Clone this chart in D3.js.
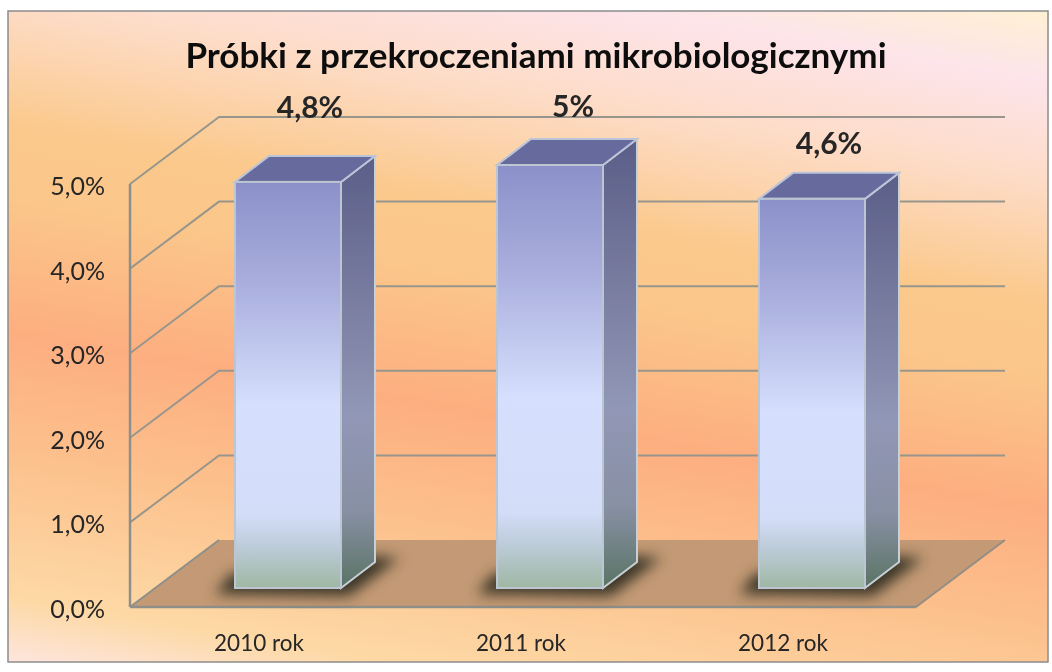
<!DOCTYPE html>
<html>
<head>
<meta charset="utf-8">
<script src="https://cdn.jsdelivr.net/npm/d3@7/dist/d3.min.js"></script>
<style>
  html, body { margin: 0; padding: 0; background: #fff; }
  svg { display: block; }
  text { font-family: Lato, "Open Sans", sans-serif; fill: #262626; }
</style>
</head>
<body>
<div id="chart"></div>
<script>
// Chart data
var title = "Próbki z przekroczeniami mikrobiologicznymi";
var categories = ["2010 rok", "2011 rok", "2012 rok"];
var values = [4.8, 5.0, 4.6];
var valueLabels = ["4,8%", "5%", "4,6%"];
var yTicks = [0, 1, 2, 3, 4, 5];

var width = 1052, height = 672;
var plot = {left: 130, right: 916, top: 184, bottom: 607};
var wall = {dx: 89, dy: -67};     // back wall offset
var barDepth = {dx: 34, dy: -26}; // side of each bar
var barFront = {dx: 27, dy: -19}; // bar front face sits this far behind the axis
var barWidth = 106;
// the value labels were hand placed in the original, they do not sit evenly over the bars
var labelNudge = [[22, -64], [23, -48], [17, -45]];

var formatTick = function(d) { return d.toFixed(1).replace(".", ",") + "%"; };

var svg = d3.select("#chart").append("svg")
    .attr("width", width)
    .attr("height", height);

var defs = svg.append("defs");

function gradient(id, stops, coords, units) {
  var g = defs.append("linearGradient").attr("id", id)
      .attr("gradientUnits", units || "objectBoundingBox")
      .attr("x1", coords[0]).attr("y1", coords[1]).attr("x2", coords[2]).attr("y2", coords[3]);
  stops.forEach(function(s) {
    g.append("stop").attr("offset", s[0]).attr("stop-color", s[1]);
  });
}

// background bands run downhill to the right
gradient("bg", [
  [0, "#fff0d4"], [0.085, "#fde4ea"], [0.2, "#fddcc8"], [0.35, "#fbc98c"],
  [0.44, "#fbc68a"], [0.6, "#fdae80"], [0.74, "#fcc08c"], [0.92, "#fdd9a6"], [1, "#fde6e0"]
], [10, -165, -127.6, 641.6], "userSpaceOnUse");

gradient("barFace", [
  [0, "#8b90c9"], [0.25, "#a9aedd"], [0.55, "#d6dffd"], [0.82, "#d3ddf8"],
  [0.9, "#bccbd8"], [1, "#9fb7a3"]
], [0, 0, 0, 1]);
gradient("barSide", [
  [0, "#5a5e88"], [0.3, "#767a9e"], [0.6, "#9197b6"], [0.82, "#8890a4"], [1, "#5a7364"]
], [0, 0, 0, 1]);

var shadowBlur = defs.append("filter").attr("id", "shadow")
    .attr("x", "-30%").attr("y", "-100%").attr("width", "160%").attr("height", "300%");
shadowBlur.append("feGaussianBlur").attr("stdDeviation", 7);

var soften = defs.append("filter").attr("id", "soften")
    .attr("x", "-2%").attr("y", "-2%").attr("width", "104%").attr("height", "104%");
soften.append("feGaussianBlur").attr("stdDeviation", 0.55);

svg.append("rect")
    .attr("x", 8).attr("y", 11)
    .attr("width", 1040).attr("height", 651)
    .attr("fill", "url(#bg)")
    .attr("stroke", "#8c8c8c")
    .attr("stroke-width", 1.5);

var chart = svg.append("g").attr("filter", "url(#soften)");

var x = d3.scaleBand().domain(categories).range([plot.left, plot.right]);
var y = d3.scaleLinear().domain([0, 5]).range([plot.bottom, plot.top]);

function pts(list) {
  return list.map(function(p) { return p.join(","); }).join(" ");
}

// floor
chart.append("polygon")
    .attr("points", pts([
      [x.range()[0], y(0)], [x.range()[1], y(0)],
      [x.range()[1] + wall.dx, y(0) + wall.dy], [x.range()[0] + wall.dx, y(0) + wall.dy]
    ]))
    .attr("fill", "#c39a75");
chart.append("line")
    .attr("x1", x.range()[1]).attr("y1", y(0))
    .attr("x2", x.range()[1] + wall.dx).attr("y2", y(0) + wall.dy)
    .attr("stroke", "#948d84").attr("stroke-width", 2);

// gridlines on the side and back walls
yTicks.forEach(function(t) {
  if (t === 0) return;
  chart.append("polyline")
      .attr("points", pts([
        [plot.left, y(t)],
        [plot.left + wall.dx, y(t) + wall.dy],
        [x.range()[1] + wall.dx, y(t) + wall.dy]
      ]))
      .attr("fill", "none")
      .attr("stroke", "#98968c")
      .attr("stroke-width", 2);
});

// front axes
chart.append("line")
    .attr("x1", plot.left).attr("y1", y(5))
    .attr("x2", plot.left).attr("y2", y(0))
    .attr("stroke", "#8f8f8a").attr("stroke-width", 2.5);
chart.append("line")
    .attr("x1", plot.left).attr("y1", y(0))
    .attr("x2", plot.left + wall.dx).attr("y2", y(0) + wall.dy)
    .attr("stroke", "#8f8f8a").attr("stroke-width", 2);
chart.append("line")
    .attr("x1", x.range()[0]).attr("y1", y(0))
    .attr("x2", x.range()[1]).attr("y2", y(0))
    .attr("stroke", "#8f8f8a").attr("stroke-width", 2.5);

var bars = chart.selectAll(".bar")
    .data(categories)
    .enter().append("g")
    .attr("class", "bar")
    .attr("transform", function(d) {
      var left = x(d) + x.bandwidth() / 2 + barFront.dx - barWidth / 2;
      return "translate(" + left + "," + (y(0) + barFront.dy) + ")";
    });

function barHeight(i) { return y(0) - y(values[i]); }

// contact shadow
bars.append("polygon")
    .attr("points", pts([
      [-20, 6], [barWidth + 8, 8], [barWidth + barDepth.dx + 24, -30],
      [barWidth, -34], [-4, -14]
    ]))
    .attr("fill", "#3a3628")
    .attr("filter", "url(#shadow)");

bars.append("polygon")
    .attr("points", function(d, i) {
      var h = barHeight(i);
      return pts([
        [barWidth, 0], [barWidth + barDepth.dx, barDepth.dy],
        [barWidth + barDepth.dx, barDepth.dy - h], [barWidth, -h]
      ]);
    })
    .attr("fill", "url(#barSide)")
    .attr("stroke", "#c6d0d6").attr("stroke-width", 2);

bars.append("polygon")
    .attr("points", function(d, i) {
      var h = barHeight(i);
      return pts([
        [0, -h], [barWidth, -h],
        [barWidth + barDepth.dx, barDepth.dy - h], [barDepth.dx, barDepth.dy - h]
      ]);
    })
    .attr("fill", "#666a9c")
    .attr("stroke", "#bcc4d8").attr("stroke-width", 2);

bars.append("rect")
    .attr("x", 0)
    .attr("y", function(d, i) { return -barHeight(i); })
    .attr("width", barWidth)
    .attr("height", function(d, i) { return barHeight(i); })
    .attr("fill", "url(#barFace)")
    .attr("stroke", "#bcc6d2").attr("stroke-width", 2);

// value labels
bars.append("text")
    .attr("x", function(d, i) { return barWidth / 2 + labelNudge[i][0]; })
    .attr("y", function(d, i) { return -barHeight(i) + labelNudge[i][1]; })
    .attr("text-anchor", "middle")
    .style("font-size", "30px")
    .style("font-weight", "700")
    .text(function(d, i) { return valueLabels[i]; });

// axis labels
chart.selectAll(".ytick")
    .data(yTicks)
    .enter().append("text")
    .attr("class", "ytick")
    .attr("x", 105)
    .attr("y", function(d) { return y(d) + 11; })
    .attr("text-anchor", "end")
    .style("font-size", "25px")
    .text(formatTick);

chart.selectAll(".xtick")
    .data(categories)
    .enter().append("text")
    .attr("class", "xtick")
    .attr("x", function(d) { return x(d) + x.bandwidth() / 2 - 2; })
    .attr("y", 651)
    .attr("text-anchor", "middle")
    .style("font-size", "22.5px")
    .text(function(d) { return d; });

chart.append("text")
    .attr("x", 536)
    .attr("y", 68)
    .attr("text-anchor", "middle")
    .style("font-size", "35px")
    .style("font-weight", "700")
    .style("fill", "#111")
    .text(title);
</script>
</body>
</html>
